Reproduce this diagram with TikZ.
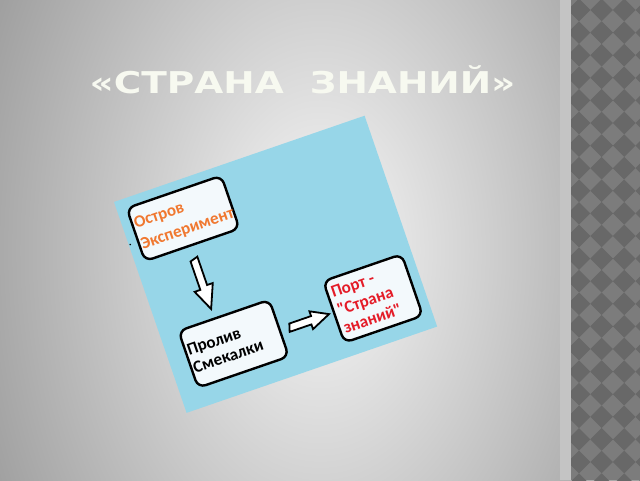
\documentclass[tikz,border=0pt]{standalone}
\usepackage{fontspec}
\setmainfont{Carlito}
\newfontfamily\boxfont{Carlito}
\newfontfamily\titlefont{DejaVu Sans}
\usetikzlibrary{calc}
\definecolor{panelblue}{RGB}{151,214,232}
\definecolor{boxfill}{RGB}{243,249,252}
\definecolor{txtorange}{RGB}{240,120,48}
\definecolor{txtred}{RGB}{228,28,40}
\definecolor{titlecol}{RGB}{247,249,240}
\definecolor{bgin}{RGB}{248,248,248}
\definecolor{bgout}{RGB}{150,150,150}
\definecolor{chkdark}{RGB}{104,104,104}
\definecolor{chklight}{RGB}{124,124,124}
\definecolor{stripcol}{RGB}{196,196,196}
\pgfdeclareradialshading{bgshade}{\pgfpoint{0bp}{0bp}}{color(0bp)=(bgin); color(25bp)=(bgout); color(50bp)=(bgout)}
\tikzset{
  box/.style={draw=black, line width=2.4pt, rounded corners=8pt, fill=boxfill, inner sep=0pt},
  boxtxt/.style={inner sep=0pt, anchor=north west, align=left, font=\boxfont\bfseries\fontsize{17}{19}\selectfont},
  blockarr/.style={draw=black, line width=1.8pt, fill=white, line join=miter},
  titletxt/.style={font=\titlefont\bfseries\fontsize{30}{31}\selectfont, text=titlecol, xscale=1.25, anchor=base, inner sep=0pt},
}
\begin{document}
\begin{tikzpicture}[x=1pt,y=1pt]
\useasboundingbox (0,0) rectangle (640,480);
% background
\begin{scope}
\clip (0,0) rectangle (640,480);
\shade[shading=bgshade] (-80,-370) rectangle (720,830);
\end{scope}
% right decorative strip
\fill[stripcol] (560,0) rectangle (571,480);
\fill[chklight] (571,0) rectangle (640,480);
\begin{scope}
\clip (571,0) rectangle (640,480);
\foreach \i in {-1,...,3} {
  \foreach \j in {-1,...,22} {
    \fill[chkdark] ({579+22.6*\i-11.3},{470-22.6*\j}) -- ++(11.3,11.3) -- ++(11.3,-11.3) -- ++(-11.3,-11.3) -- cycle;
  }
}
\end{scope}
% title
\node[titletxt] (title) at (302.5,386) {«СТРАНА\ \ ЗНАНИЙ»};
% tilted panel
\begin{scope}[shift={(114,278)}, rotate=19, transform shape]
\fill[panelblue] (0,0) rectangle (265,-223);
\node[circle, fill=black, inner sep=0pt, minimum size=1.8pt] (dot) at (1.5,-45.5) {};
\node[box, minimum width=100pt, minimum height=56pt] (o1) at (60,-38) {};
\node[box, minimum width=96pt, minimum height=60pt] (o2) at (67,-173) {};
\node[box, minimum width=83pt, minimum height=65pt] (o3) at (213.5,-175.5) {};
\node[boxtxt, text=txtorange, font=\boxfont\bfseries\fontsize{17}{21.6}\selectfont] (o1t) at (12,-21) {Остров\\Эксперимент};
\node[boxtxt, text=black] (o2t) at (21,-158.4) {Пролив\\Смекалки};
\node[boxtxt, text=txtred, font=\boxfont\bfseries\fontsize{17}{19.2}\selectfont] (o3t) at (176,-150.5) {Порт -\\"Страна\\знаний"};
% block arrows
\path (o1.south) ++(-3,-14) coordinate (a1s);
\path (o2.north) ++(-10,9) coordinate (a1t);
\draw[blockarr] (a1s) ++(-4,0) -- ++(0,-30) -- ++(-6,0) -- (a1t) -- ++(10,24) -- ++(-6,0) -- ++(0,30) -- cycle;
\path (o2.east) ++(10,-3) coordinate (a2s);
\path (o3.west) ++(-4,-0.5) coordinate (a2t);
\draw[blockarr] (a2s) ++(0,4) -- ++(23,0) -- ++(0,5) -- (a2t) -- ++(-20,-9) -- ++(0,5) -- ++(-23,0) -- cycle;
\end{scope}
\end{tikzpicture}
\end{document}
